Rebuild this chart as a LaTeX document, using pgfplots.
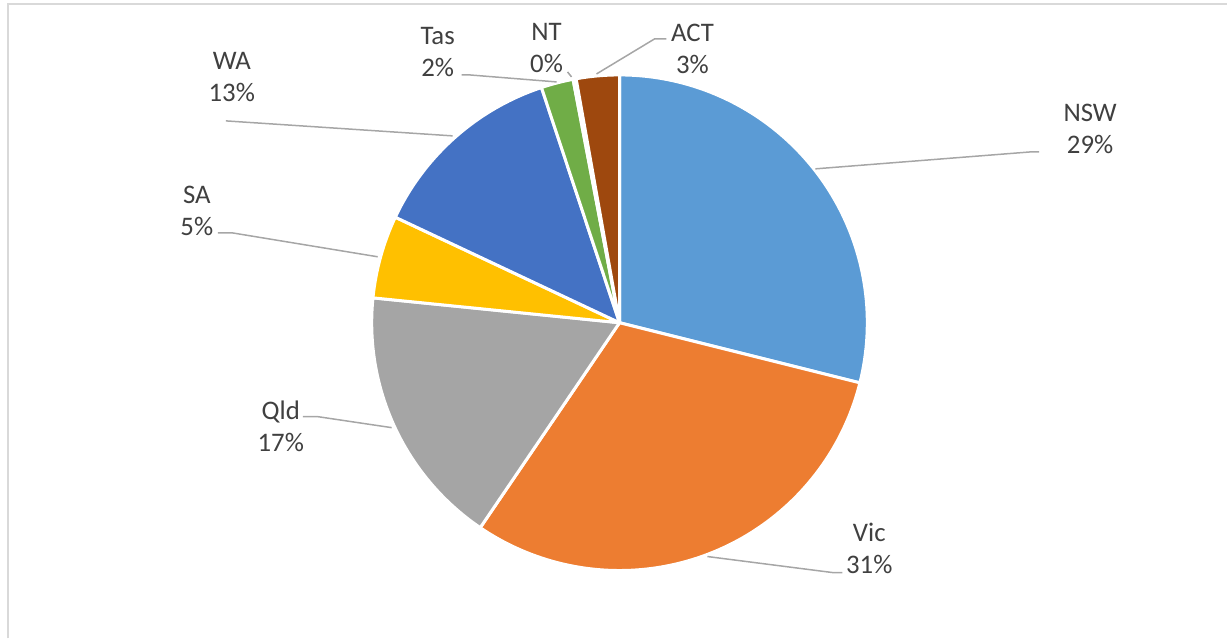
\documentclass[border=0pt]{standalone}
\usepackage{pgfplots}
\pgfplotsset{compat=1.18}
\usepackage{pgfplotstable}
\usepackage{fontspec}
\setmainfont{Carlito}
\definecolor{c0}{HTML}{5B9BD5}
\definecolor{c1}{HTML}{ED7D31}
\definecolor{c2}{HTML}{A5A5A5}
\definecolor{c3}{HTML}{FFC000}
\definecolor{c4}{HTML}{4472C4}
\definecolor{c5}{HTML}{70AD47}
\definecolor{c6}{HTML}{255E91}
\definecolor{c7}{HTML}{9E480E}
\definecolor{txt}{HTML}{404040}
\definecolor{lead}{HTML}{A6A6A6}
\definecolor{frame}{HTML}{D9D9D9}

\pgfplotstableread{
name value
NSW 28.9
Vic 30.6
Qld 17.1
SA 5.4
WA 12.9
Tas 2.1
NT 0.2
ACT 2.8
}\piedata

\begin{document}%
\pgfplotstablegetrowsof{\piedata}%
\pgfmathtruncatemacro\nrows{\pgfplotsretval-1}%
\gdef\cumangle{90}%
\foreach \i in {0,...,\nrows}{%
  \pgfplotstablegetelem{\i}{value}\of\piedata%
  \pgfmathsetmacro\endang{\cumangle-3.6*\pgfplotsretval}%
  \expandafter\xdef\csname sa\i\endcsname{\cumangle}%
  \expandafter\xdef\csname ea\i\endcsname{\endang}%
  \xdef\cumangle{\endang}%
}%
\begin{tikzpicture}
\begin{axis}[
  width=614pt, height=319.5pt, scale only axis,
  xmin=0, xmax=1228, ymin=0, ymax=639,
  hide axis, clip=false,
]
\path (axis cs:0,0) rectangle (axis cs:1228,639);
% frame
\draw[frame, line width=1pt] (axis cs:8,0) -- (axis cs:8,635) -- (axis cs:1228,635);
% slices
\pgfplotsinvokeforeach{0,...,7}{
  \fill[fill=c#1, draw=white, line width=1.5pt, line join=round]
    (axis cs:620,316) -- ++(\csname sa#1\endcsname:124pt)
    arc[start angle=\csname sa#1\endcsname, end angle=\csname ea#1\endcsname, radius=124pt] -- cycle;
}
% leader lines
\begin{scope}[lead, line width=0.75pt]
\draw (axis cs:1040,487) -- (axis cs:1032,487) -- (axis cs:816,470);
\draw (axis cs:843,66) -- (axis cs:833,66) -- (axis cs:708,82);
\draw (axis cs:303,222) -- (axis cs:318,222) -- (axis cs:392,211);
\draw (axis cs:218,406) -- (axis cs:232,406) -- (axis cs:378,382);
\draw (axis cs:226,518) -- (axis cs:453,503);
\draw (axis cs:462,564) -- (axis cs:470,564) -- (axis cs:557,557);
\draw (axis cs:568,567) -- (axis cs:572,562);
\draw (axis cs:667,600) -- (axis cs:655,600) -- (axis cs:597,565);
\end{scope}
% labels
\begin{scope}[every node/.style={txt, align=center, font=\fontsize{13.4}{16}\selectfont}]
\node at (axis cs:1091,510) {NSW\\29\%};
\node at (axis cs:870,90) {Vic\\31\%};
\node at (axis cs:281,212.5) {Qld\\17\%};
\node at (axis cs:197,428) {SA\\5\%};
\node at (axis cs:232,562) {WA\\13\%};
\node at (axis cs:438,586.5) {Tas\\2\%};
\node at (axis cs:547,590.5) {NT\\0\%};
\node at (axis cs:693,590.5) {ACT\\3\%};
\end{scope}
\end{axis}
\end{tikzpicture}%
\end{document}
